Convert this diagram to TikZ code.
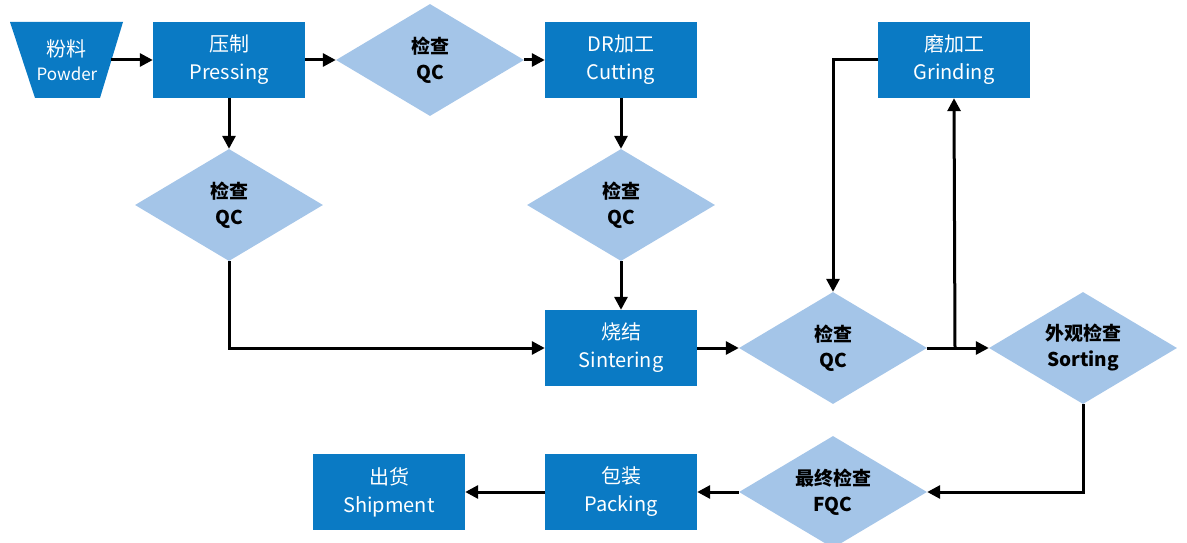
\documentclass[tikz,border=0pt]{standalone}
\usepackage{fontspec}
\setmainfont{Noto Sans CJK SC}
\usetikzlibrary{shapes.geometric,arrows.meta}
\definecolor{boxblue}{RGB}{10,122,196}
\definecolor{diablue}{RGB}{164,197,232}
\tikzset{
  x=1pt,y=-1pt,
  procbox/.style={fill=boxblue,text=white,minimum width=152pt,minimum height=76pt,align=center,inner sep=0pt,font=\fontsize{20}{28}\selectfont},
  qcdia/.style={diamond,fill=diablue,text=black,minimum width=188pt,minimum height=112pt,aspect=1.68,inner sep=0pt,align=center,font=\fontsize{19}{26}\selectfont\bfseries},
  conn/.style={line width=3pt,-{Triangle[length=13pt,width=13pt]}},
}
\begin{document}
\begin{tikzpicture}
\useasboundingbox (0,0) rectangle (1187,543);
% powder trapezoid
\fill[boxblue] (10,22) -- (123,22) -- (100,98) -- (35,98) -- cycle;
\node[minimum width=88pt,minimum height=76pt,inner sep=0pt,text=white,align=center,font=\fontsize{20}{25}\selectfont] (powder) at (67,60) {粉料\\[-1pt]{\fontsize{17}{20}\selectfont Powder}};
\node[procbox] (press) at (229,60) {压制\\Pressing};
\node[qcdia] (qc1) at (430,60) {检查\\QC};
\node[procbox] (cut) at (621,60) {DR加工\\Cutting};
\node[procbox] (grind) at (954,60) {磨加工\\Grinding};
\node[qcdia] (qc2) at (229,205) {检查\\QC};
\node[qcdia] (qc3) at (621,205) {检查\\QC};
\node[procbox] (sinter) at (621,348) {烧结\\Sintering};
\node[qcdia] (qc4) at (833,348) {检查\\QC};
\node[qcdia] (sort) at (1083,348) {外观检查\\Sorting};
\node[qcdia] (fqc) at (833,492) {最终检查\\FQC};
\node[procbox] (pack) at (621,492) {包装\\Packing};
\node[procbox] (ship) at (389,492) {出货\\Shipment};
\coordinate (j) at (955,348);
% connectors
\draw[conn] (powder.east) -- (press.west);
\draw[conn] (press.east) -- (qc1.west);
\draw[conn] (qc1.east) -- (cut.west);
\draw[conn] (press.south) -- (qc2.north);
\draw[conn] (cut.south) -- (qc3.north);
\draw[conn] (qc3.south) -- (sinter.north);
\draw[conn] (qc2.south) |- (sinter.west);
\draw[conn] (sinter.east) -- (qc4.west);
\draw[conn] (qc4.east) -- (sort.west);
\draw[conn] (j) -- (grind.south);
\draw[conn] (grind.west) -| (qc4.north);
\draw[conn] (sort.south) |- (fqc.east);
\draw[conn] (fqc.west) -- (pack.east);
\draw[conn] (pack.west) -- (ship.east);
\end{tikzpicture}
\end{document}
